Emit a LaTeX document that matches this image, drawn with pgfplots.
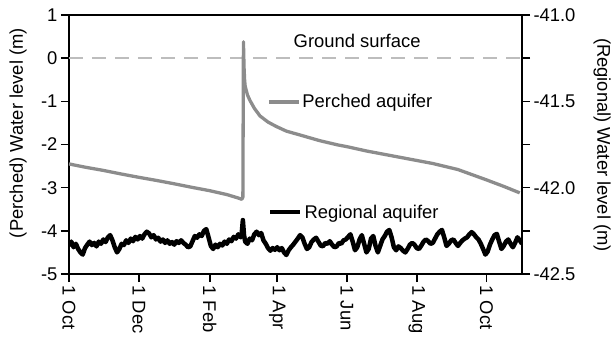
\documentclass[border=0pt]{standalone}
\usepackage{pgfplots}
\usepackage{pgfplotstable}
\pgfplotsset{compat=1.18}
\usepackage{fontspec}
\setmainfont{Liberation Sans}
\newcommand\myfont{\fontsize{18.4bp}{22bp}\selectfont}
\definecolor{perch}{HTML}{8C8C8C}
\definecolor{ground}{HTML}{BDBDBD}

\pgfplotstableread{
d v
0 -2.45
15 -2.53
30 -2.60
45 -2.68
61 -2.76
76 -2.83
92 -2.91
107 -2.99
123 -3.07
138 -3.16
148 -3.24
151 -3.27
152 -3.22
152.5 0.38
153 -0.20
153.5 -0.50
154 -0.65
156 -0.85
158 -0.97
162 -1.16
167 -1.34
174 -1.48
181 -1.58
190 -1.69
202 -1.78
219 -1.91
235 -2.01
243 -2.05
260 -2.15
290 -2.30
318 -2.44
340 -2.58
365 -2.82
380 -2.97
394 -3.12
}\perched

\pgfplotstableread{
d v
0 -4.35
2 -4.25
4 -4.38
6 -4.30
8 -4.42
10 -4.50
12 -4.55
14 -4.40
16 -4.32
18 -4.25
20 -4.33
22 -4.28
24 -4.36
26 -4.25
28 -4.30
30 -4.20
32 -4.26
34 -4.15
36 -4.10
38 -4.22
40 -4.38
42 -4.50
44 -4.42
46 -4.30
48 -4.33
50 -4.22
52 -4.28
54 -4.18
56 -4.24
58 -4.14
60 -4.20
62 -4.12
64 -4.18
66 -4.08
68 -4.02
70 -4.06
72 -4.15
74 -4.10
76 -4.20
78 -4.16
80 -4.25
82 -4.20
84 -4.28
86 -4.22
88 -4.30
90 -4.26
92 -4.32
94 -4.24
96 -4.28
98 -4.22
100 -4.28
102 -4.32
104 -4.38
106 -4.36
108 -4.24
110 -4.12
112 -4.16
114 -4.08
116 -4.12
118 -4.00
120 -3.96
122 -4.15
124 -4.35
126 -4.42
128 -4.32
130 -4.38
132 -4.30
134 -4.34
136 -4.25
138 -4.30
140 -4.20
142 -4.24
144 -4.14
146 -4.18
148 -4.08
150 -4.15
151 -4.05
152 -3.75
153 -4.10
154 -4.25
156 -4.30
158 -4.18
160 -4.22
162 -4.08
164 -4.02
166 -4.10
168 -4.05
170 -4.22
172 -4.30
174 -4.40
176 -4.46
178 -4.40
180 -4.44
182 -4.38
184 -4.45
186 -4.40
188 -4.50
190 -4.56
192 -4.45
194 -4.38
196 -4.32
198 -4.25
200 -4.18
202 -4.10
204 -4.15
206 -4.30
208 -4.42
210 -4.38
212 -4.26
214 -4.20
216 -4.16
218 -4.25
220 -4.34
222 -4.36
224 -4.28
226 -4.30
228 -4.24
230 -4.32
232 -4.38
234 -4.36
236 -4.28
238 -4.30
240 -4.22
242 -4.20
244 -4.14
246 -4.08
248 -4.25
250 -4.45
252 -4.38
254 -4.20
256 -4.10
258 -4.30
260 -4.50
262 -4.42
264 -4.18
266 -4.12
268 -4.35
270 -4.50
272 -4.35
274 -4.20
276 -4.12
278 -4.02
280 -3.98
282 -4.15
284 -4.38
286 -4.45
288 -4.36
290 -4.40
292 -4.46
294 -4.50
296 -4.42
298 -4.32
300 -4.28
302 -4.32
304 -4.40
306 -4.42
308 -4.34
310 -4.25
312 -4.20
314 -4.24
316 -4.30
318 -4.28
320 -4.18
322 -4.08
324 -4.02
326 -3.98
328 -4.15
330 -4.35
332 -4.30
334 -4.22
336 -4.20
338 -4.28
340 -4.35
342 -4.28
344 -4.22
346 -4.18
348 -4.15
350 -4.08
352 -4.03
354 -4.08
356 -4.15
358 -4.20
360 -4.30
362 -4.42
364 -4.55
366 -4.48
368 -4.32
370 -4.20
372 -4.10
374 -4.07
376 -4.25
378 -4.42
380 -4.35
382 -4.25
384 -4.20
386 -4.30
388 -4.38
390 -4.28
392 -4.15
394 -4.22
396 -4.30
}\regional

\begin{document}
\begin{tikzpicture}
\path[use as bounding box] (-69bp,-68bp) rectangle (543bp,274bp);
\pgfplotsset{common/.style={
  scale only axis, width=453bp, height=259bp,
  at={(0,0)}, anchor=south west,
  xmin=0, xmax=396, ymin=-5, ymax=1,
  tick align=outside, major tick length=8bp, minor tick length=8bp,
  axis line style={line width=1.6bp, black},
  every tick/.style={black, line width=1.6bp},
  tick label style={font=\myfont},
  legend style={draw=none, fill=none, font=\myfont, inner sep=0pt, legend cell align=left},
  legend image code/.code={\draw[##1] (0bp,0bp) -- (30bp,0bp);},
}}
\begin{axis}[common,
  xtick pos=bottom, ytick pos=left,
  xtick={0,61,123,182,243,304,365},
  xticklabels={1 Oct,1 Dec,1 Feb,1 Apr,1 Jun,1 Aug,1 Oct},
  xticklabel style={rotate=-90, anchor=west},
  ytick={-5,-4,-3,-2,-1,0,1},
  yticklabels={-5,-4,-3,-2,-1,0,1},
  every axis y label/.style={at={(axis description cs:-0.1126,0.544)}, anchor=center, rotate=90, font=\myfont},
  ylabel={(Perched) Water level (m)},
  legend style={at={(axis description cs:0.437,0.664)}, anchor=west},
]
\addplot[ground, line width=1.8bp, dash pattern=on 14bp off 9bp, forget plot] coordinates {(0,0) (396,0)};
\addplot[perch, line width=3.3bp, line join=round] table[x=d, y=v] {\perched};
\addlegendentry{Perched aquifer}
\node[font=\myfont] at (axis description cs:0.636,0.9) {Ground surface};
\end{axis}
\begin{axis}[common,
  axis x line=none, axis y line*=right,
  ytick={-5,-3,-1,1},
  yticklabels={-42.5,-42.0,-41.5,-41.0},
  minor ytick={-4,-2,0},
  every axis y label/.style={at={(axis description cs:1.177,0.498)}, anchor=center, rotate=-90, font=\myfont},
  ylabel={(Regional) Water level (m)},
  legend style={at={(axis description cs:0.439,0.239)}, anchor=west},
]
\addplot[black, line width=4.5bp, line join=round] table[x=d, y=v] {\regional};
\addlegendentry{Regional aquifer}
\end{axis}
\end{tikzpicture}
\end{document}
